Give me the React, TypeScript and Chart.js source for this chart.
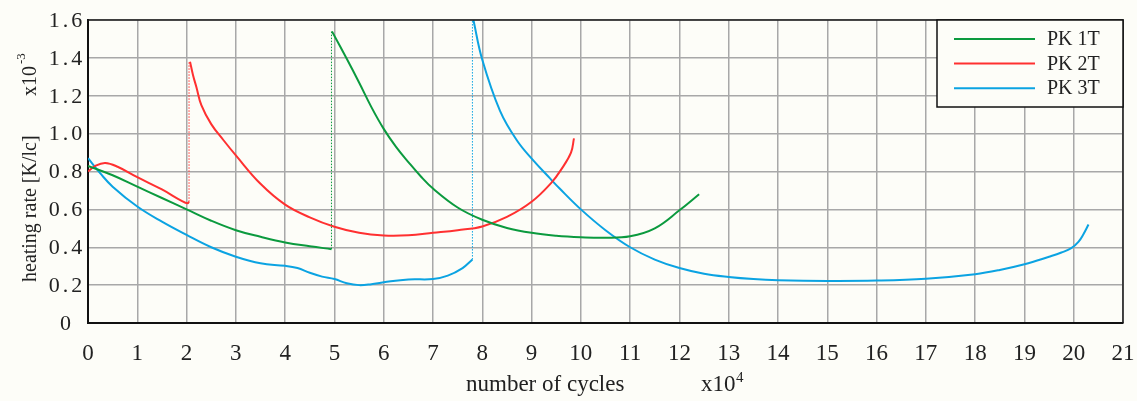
import React, { useEffect, useRef } from "react";
import { Chart, registerables } from "chart.js";

Chart.register(...registerables);

// ---- data ----
const seriesNames = ["PK 1T", "PK 2T", "PK 3T"];
const seriesColors = ["#0b9a3e", "#ff3030", "#0ba3e2"];

const xMin = 0;
const xMax = 21;
const yMin = 0;
const yMax = 1.6;

// PK 1T
const pk1Before: [number, number][] = [
  [0, 0.83], [0.5, 0.78], [1, 0.72], [1.5, 0.66], [2, 0.6], [2.5, 0.54],
  [3, 0.49], [3.5, 0.455], [4, 0.425], [4.5, 0.405], [4.94, 0.39],
];
const pk1After: [number, number][] = [
  [4.95, 1.54], [5.25, 1.395], [5.5, 1.27], [5.75, 1.14], [6, 1.025],
  [6.25, 0.93], [6.5, 0.85], [6.75, 0.775], [7, 0.71], [7.5, 0.61],
  [8, 0.545], [8.5, 0.502], [9, 0.476], [9.5, 0.461], [10, 0.453], [10.5, 0.45],
  [11, 0.458], [11.5, 0.5], [12, 0.595], [12.4, 0.68],
];
const pk1JumpX = 4.94;

// PK 2T
const pk2Before: [number, number][] = [
  [0, 0.8], [0.15, 0.83], [0.35, 0.845], [0.6, 0.825], [1, 0.77], [1.5, 0.705],
  [1.9, 0.645], [2.02, 0.632], [2.05, 0.64],
];
const pk2After: [number, number][] = [
  [2.07, 1.38], [2.13, 1.31], [2.2, 1.245], [2.3, 1.15], [2.5, 1.05], [2.75, 0.965],
  [3, 0.885], [3.5, 0.735], [4, 0.625], [4.5, 0.558], [5, 0.508], [5.5, 0.476],
  [6, 0.462], [6.5, 0.463], [7, 0.476], [7.5, 0.49], [8, 0.51], [8.5, 0.56],
  [9, 0.64], [9.4, 0.74], [9.6, 0.81], [9.8, 0.9], [9.86, 0.975],
];
const pk2JumpX = 2.05;

// PK 3T
const pk3Before: [number, number][] = [
  [0, 0.87], [0.25, 0.79], [0.5, 0.72], [1, 0.615], [1.5, 0.535], [2, 0.465],
  [2.5, 0.4], [3, 0.35], [3.5, 0.315], [4, 0.302], [4.25, 0.29], [4.5, 0.265],
  [4.75, 0.245], [5, 0.232], [5.25, 0.21], [5.5, 0.2], [5.75, 0.205], [6, 0.215],
  [6.5, 0.23], [7, 0.232], [7.3, 0.25], [7.6, 0.29], [7.8, 0.335],
];
const pk3After: [number, number][] = [
  [7.82, 1.6], [8, 1.39], [8.36, 1.12], [8.7, 0.965], [9.03, 0.86], [9.37, 0.765],
  [9.57, 0.71], [10, 0.6], [10.5, 0.49], [11, 0.4], [11.5, 0.335], [12, 0.29],
  [12.5, 0.26], [13, 0.243], [13.5, 0.232], [14, 0.226], [15, 0.222], [16, 0.224],
  [17, 0.234], [18, 0.258], [18.5, 0.28], [19, 0.31], [19.5, 0.35], [19.75, 0.372],
  [19.95, 0.395], [20.1, 0.43], [20.2, 0.47], [20.3, 0.52],
];
const pk3JumpX = 7.8;

const yTitle = "heating rate [K/lc]";
const yTitleExp = "x10";
const yTitleSup = "-3";
const xTitle = "number of cycles";
const xTitleExp = "x10";
const xTitleSup = "4";

const BG = "#fdfdf8";
const SERIF = '"Liberation Serif", "Times New Roman", serif';

const toPts = (arr: [number, number][]) => arr.map(([x, y]) => ({ x, y }));

function makeSeries(
  idx: number,
  before: [number, number][],
  after: [number, number][],
  jumpX: number
) {
  const color = seriesColors[idx];
  const solid = {
    borderColor: color,
    backgroundColor: color,
    borderWidth: 2,
    pointRadius: 0,
    fill: false,
    tension: 0.4,
  };
  return [
    { label: seriesNames[idx], data: toPts(before), ...solid },
    {
      label: seriesNames[idx] + " jump",
      data: [
        { x: jumpX, y: before[before.length - 1][1] },
        { x: jumpX, y: after[0][1] },
      ],
      borderColor: color,
      borderWidth: 1,
      borderDash: [1.5, 1.5],
      pointRadius: 0,
      tension: 0,
      fill: false,
    },
    { label: seriesNames[idx] + " cont", data: toPts(after), ...solid },
  ];
}

const overlayPlugin = {
  id: "overlay",
  beforeDraw(chart: any) {
    const { ctx, width, height } = chart;
    ctx.save();
    ctx.fillStyle = BG;
    ctx.fillRect(0, 0, width, height);
    ctx.restore();
  },
  afterDraw(chart: any) {
    const { ctx, chartArea: a, scales } = chart;
    ctx.save();
    // top / right frame
    ctx.strokeStyle = "#1a1a1a";
    ctx.lineWidth = 1.5;
    ctx.beginPath();
    ctx.moveTo(a.left, a.top);
    ctx.lineTo(a.right, a.top);
    ctx.lineTo(a.right, a.bottom);
    ctx.stroke();

    // y tick labels (letter-spaced like the original)
    const ys = scales.y;
    ctx.fillStyle = "#222";
    ctx.font = `22px ${SERIF}`;
    ctx.textAlign = "center";
    ctx.textBaseline = "middle";
    try { (ctx as any).letterSpacing = "3px"; } catch (e) {}
    ys.ticks.forEach((t: any) => {
      const v = t.value;
      const s = Math.abs(v) < 1e-9 ? "0" : v.toFixed(1);
      ctx.fillText(s, 67, ys.getPixelForValue(v) + 1);
    });
    try { (ctx as any).letterSpacing = "0px"; } catch (e) {}

    // y title (rotated)
    ctx.save();
    ctx.translate(36, 282);
    ctx.rotate(-Math.PI / 2);
    ctx.textAlign = "left";
    ctx.textBaseline = "alphabetic";
    ctx.font = `20px ${SERIF}`;
    ctx.fillText(yTitle, 0, 0);
    ctx.fillText(yTitleExp, 186, 0);
    ctx.font = `13px ${SERIF}`;
    ctx.fillText(yTitleSup, 218, -11);
    ctx.restore();

    // x title
    ctx.textAlign = "left";
    ctx.textBaseline = "alphabetic";
    ctx.font = `23px ${SERIF}`;
    ctx.fillText(xTitle, 466, 391);
    ctx.fillText(xTitleExp, 701, 391);
    ctx.font = `15px ${SERIF}`;
    ctx.fillText(xTitleSup, 736, 382);

    // legend box
    const bw = 186;
    const bh = 87;
    const bx = a.right - bw;
    const by = a.top;
    ctx.fillStyle = BG;
    ctx.fillRect(bx, by, bw, bh);
    ctx.strokeStyle = "#111";
    ctx.lineWidth = 1.5;
    ctx.strokeRect(bx, by, bw, bh);
    ctx.font = `20px ${SERIF}`;
    ctx.textBaseline = "middle";
    seriesNames.forEach((name, i) => {
      const ly = by + 19 + i * 24.6;
      ctx.strokeStyle = seriesColors[i];
      ctx.lineWidth = 2;
      ctx.beginPath();
      ctx.moveTo(bx + 17, ly);
      ctx.lineTo(bx + 98, ly);
      ctx.stroke();
      ctx.fillStyle = "#222";
      ctx.fillText(name, bx + 110, ly + 1);
    });
    ctx.restore();
  },
};

export default function App() {
  const canvasRef = useRef<HTMLCanvasElement | null>(null);

  useEffect(() => {
    if (!canvasRef.current) return;
    const datasets = [
      ...makeSeries(0, pk1Before, pk1After, pk1JumpX),
      ...makeSeries(1, pk2Before, pk2After, pk2JumpX),
      ...makeSeries(2, pk3Before, pk3After, pk3JumpX),
    ];
    const chart = new Chart(canvasRef.current, {
      type: "line",
      data: { datasets: datasets as any },
      plugins: [overlayPlugin],
      options: {
        animation: false,
        responsive: true,
        maintainAspectRatio: false,
        layout: { padding: { left: 0, top: 20, right: 14, bottom: 0 } },
        plugins: {
          legend: { display: false },
          tooltip: { enabled: false },
        },
        scales: {
          x: {
            type: "linear",
            min: xMin,
            max: xMax,
            afterFit: (s: any) => {
              s.height = 78;
              s.paddingLeft = 0;
              s.paddingRight = 0;
            },
            ticks: {
              stepSize: 1,
              autoSkip: false,
              maxRotation: 0,
              padding: 17,
              color: "#222",
              font: { family: SERIF, size: 23 },
            },
            grid: { color: "#a8a8a8", lineWidth: 1.5, drawTicks: false },
            border: { color: "#111", width: 2 },
          },
          y: {
            type: "linear",
            min: yMin,
            max: yMax,
            afterFit: (s: any) => {
              s.width = 88;
              s.paddingTop = 0;
              s.paddingBottom = 0;
            },
            ticks: { stepSize: 0.2, display: false },
            grid: { color: "#a8a8a8", lineWidth: 1.5, drawTicks: false },
            border: { color: "#111", width: 2 },
          },
        },
      },
    });
    return () => chart.destroy();
  }, []);

  return (
    <div style={{ position: "absolute", left: 0, top: 0, width: 1137, height: 401, background: BG }}>
      <canvas ref={canvasRef} />
    </div>
  );
}
